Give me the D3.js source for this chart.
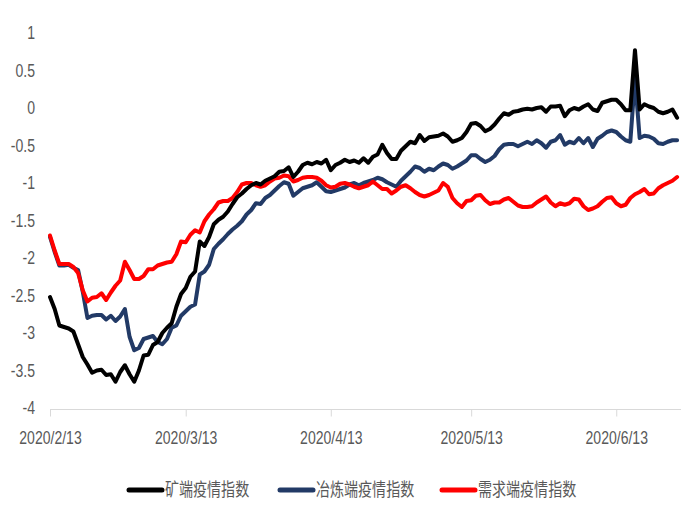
<!DOCTYPE html>
<html><head><meta charset="utf-8">
<script src="https://cdn.jsdelivr.net/npm/d3@7"></script>
<style>
body{margin:0;background:#fff;}
svg{display:block;font-family:"Liberation Sans",Arial,sans-serif;}
</style></head>
<body><svg id="c" width="682" height="516"></svg>
<script>
// ---- data (daily, from 2020-02-13) ----
const startDate = "2020-02-13";
const seriesNames = ["矿端疫情指数", "冶炼端疫情指数", "需求端疫情指数"];
const xTickLabels = ["2020/2/13", "2020/3/13", "2020/4/13", "2020/5/13", "2020/6/13"];
const yTickValues = [1, 0.5, 0, -0.5, -1, -1.5, -2, -2.5, -3, -3.5, -4];

const mine = [-2.52,-2.68,-2.90,-2.92,-2.94,-2.98,-3.15,-3.32,-3.42,-3.53,-3.50,-3.49,-3.56,-3.55,-3.65,-3.52,-3.43,-3.55,-3.65,-3.50,
-3.30,-3.29,-3.16,-3.12,-3.00,-2.93,-2.87,-2.65,-2.48,-2.40,-2.25,-2.18,-1.78,-1.84,-1.72,-1.55,-1.49,-1.45,-1.38,-1.28,
-1.19,-1.14,-1.08,-1.03,-1.00,-1.02,-0.97,-0.94,-0.91,-0.85,-0.84,-0.79,-0.92,-0.85,-0.76,-0.73,-0.75,-0.72,-0.74,-0.69,
-0.83,-0.76,-0.73,-0.69,-0.72,-0.70,-0.73,-0.67,-0.73,-0.65,-0.62,-0.49,-0.60,-0.68,-0.68,-0.57,-0.51,-0.45,-0.47,-0.36,
-0.44,-0.39,-0.38,-0.37,-0.34,-0.38,-0.45,-0.43,-0.40,-0.32,-0.21,-0.20,-0.24,-0.31,-0.28,-0.22,-0.14,-0.07,-0.09,-0.05,
-0.04,-0.02,-0.01,-0.02,0.00,0.01,-0.05,0.02,0.02,0.03,-0.11,-0.03,0.00,-0.02,0.02,0.05,-0.02,-0.04,0.07,0.09,
0.11,0.11,0.05,-0.03,-0.03,0.77,-0.02,0.05,0.02,0.00,-0.05,-0.07,-0.05,-0.02,-0.13];

const smelt = [-1.72,-1.92,-2.10,-2.10,-2.09,-2.13,-2.16,-2.45,-2.80,-2.77,-2.76,-2.76,-2.82,-2.77,-2.84,-2.78,-2.68,-3.05,-3.23,-3.20,
-3.08,-3.06,-3.04,-3.12,-3.15,-3.08,-2.93,-2.90,-2.77,-2.71,-2.65,-2.62,-2.22,-2.18,-2.09,-1.88,-1.81,-1.75,-1.68,-1.62,
-1.57,-1.51,-1.42,-1.36,-1.27,-1.28,-1.20,-1.16,-1.10,-1.04,-0.99,-1.01,-1.17,-1.12,-1.07,-1.05,-1.03,-0.99,-1.05,-1.11,
-1.12,-1.10,-1.08,-1.06,-1.02,-1.00,-1.03,-1.00,-0.98,-0.96,-0.93,-0.95,-0.99,-1.02,-1.05,-0.97,-0.91,-0.85,-0.78,-0.80,
-0.85,-0.81,-0.83,-0.78,-0.74,-0.76,-0.81,-0.78,-0.74,-0.70,-0.63,-0.63,-0.68,-0.72,-0.69,-0.64,-0.55,-0.49,-0.48,-0.48,
-0.51,-0.48,-0.45,-0.48,-0.43,-0.47,-0.53,-0.45,-0.43,-0.36,-0.49,-0.45,-0.47,-0.40,-0.47,-0.40,-0.52,-0.41,-0.37,-0.32,
-0.30,-0.32,-0.38,-0.43,-0.45,0.40,-0.40,-0.37,-0.38,-0.41,-0.47,-0.48,-0.45,-0.43,-0.43];

const demand = [-1.70,-1.90,-2.08,-2.08,-2.08,-2.12,-2.20,-2.43,-2.58,-2.53,-2.52,-2.47,-2.56,-2.46,-2.37,-2.30,-2.05,-2.16,-2.28,-2.28,
-2.24,-2.15,-2.15,-2.10,-2.08,-2.06,-2.05,-1.95,-1.78,-1.79,-1.69,-1.63,-1.66,-1.51,-1.42,-1.35,-1.26,-1.24,-1.24,-1.20,
-1.12,-1.02,-1.00,-1.00,-1.03,-1.05,-1.03,-0.98,-0.94,-0.93,-0.90,-0.91,-0.98,-0.96,-0.93,-0.92,-0.92,-0.93,-0.97,-1.03,
-1.06,-1.05,-1.01,-1.00,-1.02,-1.05,-1.07,-1.05,-1.03,-0.98,-1.03,-1.08,-1.08,-1.14,-1.10,-1.05,-1.03,-1.07,-1.12,-1.16,
-1.18,-1.16,-1.13,-1.10,-1.00,-1.05,-1.20,-1.27,-1.32,-1.24,-1.23,-1.17,-1.16,-1.23,-1.28,-1.26,-1.26,-1.22,-1.20,-1.25,
-1.30,-1.32,-1.32,-1.31,-1.26,-1.22,-1.18,-1.26,-1.31,-1.27,-1.29,-1.27,-1.21,-1.22,-1.31,-1.36,-1.34,-1.31,-1.25,-1.20,
-1.19,-1.27,-1.31,-1.29,-1.20,-1.15,-1.12,-1.08,-1.15,-1.14,-1.07,-1.03,-1.00,-0.97,-0.92];

const colors = ["#000000", "#223A66", "#FF0000"];

// ---- build ----
const parse = d3.utcParse("%Y-%m-%d");
const t0 = parse(startDate);
const dates = mine.map((_, i) => d3.utcDay.offset(t0, i));
const tickDates = xTickLabels.map(s => d3.utcParse("%Y/%m/%d")(s));

const svg = d3.select("#c");
const x = d3.scaleUtc().domain([t0, d3.utcDay.offset(t0, 134)]).range([50, 677.1]);
const y = d3.scaleLinear().domain([-4, 1]).range([408, 33]);

const SX = 0.78;

// y labels
svg.append("g").selectAll("text").data(yTickValues).join("text")
  .attr("transform", d => `translate(35,${y(d)}) scale(${SX},1)`)
  .attr("text-anchor", "end").attr("dy", "0.35em")
  .attr("font-size", 18).attr("fill", "#595959")
  .text(d => d);

// x axis
const xAxis = d3.axisBottom(x).tickValues(tickDates).tickSize(7).tickSizeOuter(0)
  .tickFormat((d, i) => xTickLabels[i]);
const gx = svg.append("g").attr("transform", "translate(0,409.5)").call(xAxis);
gx.select(".domain").attr("stroke", "#D9D9D9").attr("d", "M50,0H681");
gx.selectAll(".tick line").attr("stroke", "#D9D9D9");
gx.selectAll(".tick text").attr("font-size", 18).attr("fill", "#595959")
  .attr("font-family", "Liberation Sans, Arial, sans-serif")
  .attr("y", 22).attr("dy", "0.71em")
  .attr("transform", `scale(${SX},1)`);

// lines
const seriesData = [mine, smelt, demand];
const line = d3.line().x((d, i) => x(dates[i])).y(d => y(d)).curve(d3.curveLinear);
// draw order: red back, then blue, then black? reference: red over blue early; black over others
const order = [1, 2, 0];
order.forEach(k => {
  svg.append("path").datum(seriesData[k])
    .attr("d", line).attr("fill", "none")
    .attr("stroke", colors[k]).attr("stroke-width", 4)
    .attr("stroke-linejoin", "round").attr("stroke-linecap", "round");
});

// legend
const legendX = [129, 280, 442];
const lg = svg.append("g");
seriesNames.forEach((n, i) => {
  lg.append("line").attr("x1", legendX[i]).attr("x2", legendX[i] + 33)
    .attr("y1", 490).attr("y2", 490)
    .attr("stroke", colors[i]).attr("stroke-width", 5).attr("stroke-linecap", "round");
  lg.append("text")
    .attr("transform", `translate(${legendX[i] + 36},490) scale(${SX},1)`)
    .attr("dy", "0.35em").attr("font-size", 18).attr("fill", "#595959")
    .attr("font-family", "Noto Sans CJK SC, sans-serif")
    .text(n);
});
</script></body></html>
